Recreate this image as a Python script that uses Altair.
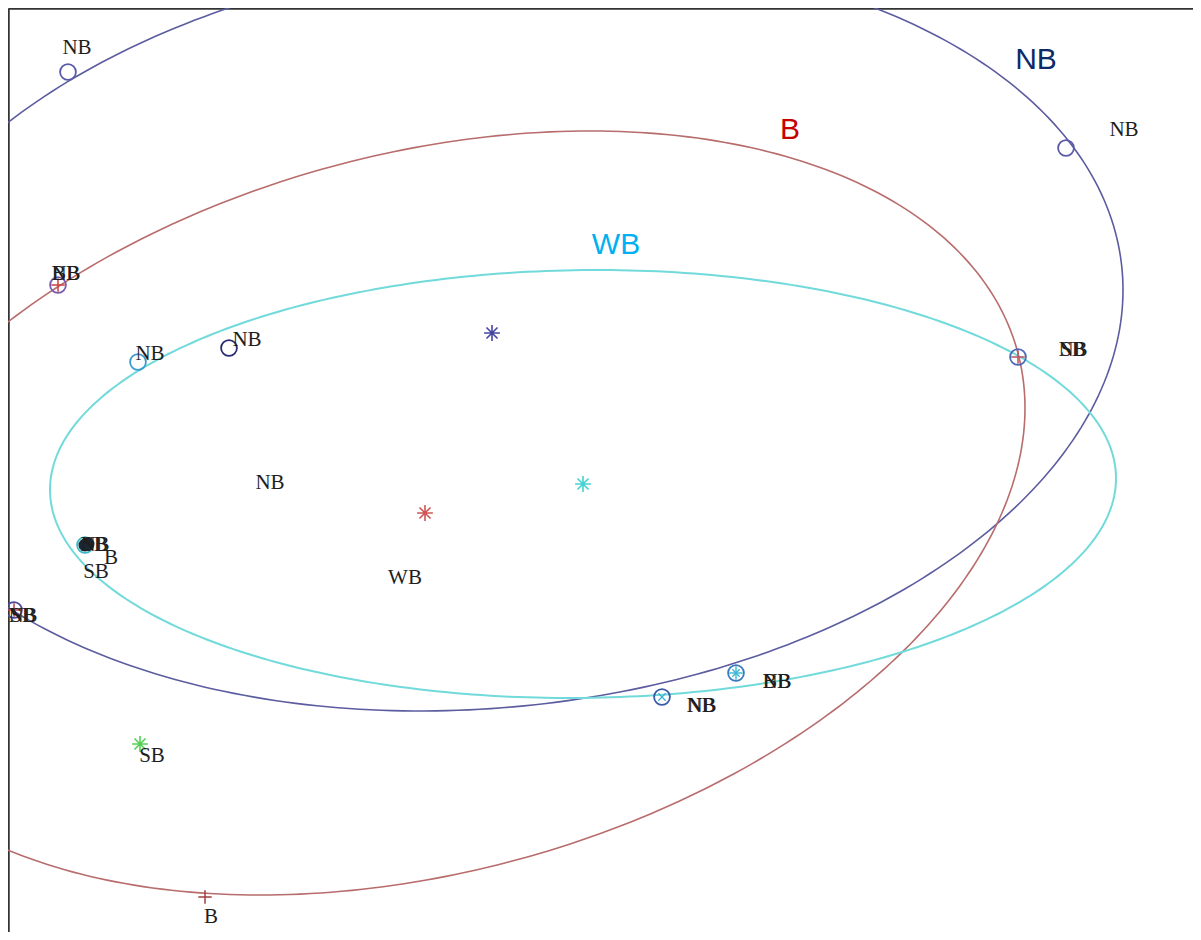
import altair as alt
import numpy as np
import pandas as pd

# ---- ellipses (group, centre, x/y half-extent, covariance-like cross term) ----
ell_group = ["NB", "B", "WB"]
ell_cx = [491, 425, 583]
ell_cy = [332.5, 513, 484]
ell_rx = [632, 600, 533]
ell_ry = [378.5, 382, 214]
ell_cxy = [-26860, -63000, -3000]
ell_color = ["#5c5ca0", "#b86c6c", "#72dada"]
ell_width = [1.6, 1.6, 2.0]

# ---- group centroids (asterisks) ----
cen_x = [492, 425, 583, 140]
cen_y = [333, 513, 484, 744]
cen_color = ["#4545a5", "#d05555", "#45d2d2", "#55d055"]

# ---- observation circles ----
circ_x = [68, 1066, 229, 138, 58, 1018, 662, 736, 14, 85]
circ_y = [72, 148, 348, 362, 285, 357, 697, 673, 610, 545]
circ_color = ["#5a5aa8", "#5a5aa8", "#2a2a70", "#3a9ccf", "#7a5ab0",
              "#4a6ab8", "#3a5aa8", "#3a7ac0", "#4a4aa0", "#3ab8c8"]

# filled cluster
fill_x = [85, 88]
fill_y = [545, 544]

# plus markers
plus_x = [58, 1018, 205, 14, 736]
plus_y = [285, 357, 897, 610, 673]
plus_color = ["#d04040", "#c05060", "#a04040", "#c04050", "#40c0d8"]

# x markers
xm_x = [662, 736]
xm_y = [697, 673]
xm_color = ["#40b0d0", "#40b0d0"]

# ---- small labels ----
lab_text = ["NB", "NB", "NB", "NB", "BB", "NB", "NB", "SB", "NB", "NB",
            "NB", "BB", "SB", "NB", "NB", "SB", "B", "SB", "SB", "B",
            "NB", "WB"]
lab_x = [77, 1124, 247, 150, 66, 66, 1073, 1073, 701, 702,
         777, 777, 23, 23, 95, 95, 111, 96, 152, 211,
         270, 405]
lab_y = [48, 130, 340, 354, 274, 274, 350, 350, 706, 706,
         682, 682, 616, 616, 545, 545, 558, 572, 756, 917,
         483, 578]

# ---- big group labels ----
big_text = ["NB", "B", "WB"]
big_x = [1036, 790, 616]
big_y = [60, 130, 245]
big_color = ["#0c2a6a", "#c40000", "#00b0f0"]

X0, X1, Y0, Y1 = 8, 1193, 8, 932

rows = []
t = np.linspace(0, 2 * np.pi, 361)
for g, cx, cy, rx, ry, cxy, col, w in zip(ell_group, ell_cx, ell_cy, ell_rx, ell_ry,
                                          ell_cxy, ell_color, ell_width):
    k = cxy / rx
    s = np.sqrt(ry ** 2 - k ** 2)
    for i, tt in enumerate(t):
        rows.append({"g": g, "i": i, "x": cx + rx * np.cos(tt),
                     "y": cy + k * np.cos(tt) + s * np.sin(tt), "c": col, "w": w})
ell_df = pd.DataFrame(rows)

xs = alt.Scale(domain=[X0, X1], nice=False, zero=False)
ys = alt.Scale(domain=[Y0, Y1], nice=False, zero=False, reverse=True)
xax = alt.Axis(orient="top", labels=False, ticks=False, grid=False, title=None,
               domainColor="#333333", domainWidth=2.5)
yax = alt.Axis(orient="left", labels=False, ticks=False, grid=False, title=None,
               domainColor="#333333", domainWidth=2.5)


def X():
    return alt.X("x:Q", scale=xs, axis=xax)


def Y():
    return alt.Y("y:Q", scale=ys, axis=yax)


ellipses = alt.Chart(ell_df).mark_line(clip=True).encode(
    x=X(), y=Y(), detail="g:N", order="i:Q",
    color=alt.Color("c:N", scale=None),
    strokeWidth=alt.StrokeWidth("w:Q", scale=None))

ast_path = "M-1,0L1,0M0,-1L0,1M-0.7,-0.7L0.7,0.7M-0.7,0.7L0.7,-0.7"
plus_path = "M-1,0L1,0M0,-1L0,1"
x_path = "M-0.7,-0.7L0.7,0.7M-0.7,0.7L0.7,-0.7"

cen_df = pd.DataFrame({"x": cen_x, "y": cen_y, "c": cen_color})
centroids = alt.Chart(cen_df).mark_point(shape=ast_path, size=250, filled=False,
                                         strokeWidth=1.6, opacity=1).encode(
    x=X(), y=Y(), color=alt.Color("c:N", scale=None))

circ_df = pd.DataFrame({"x": circ_x, "y": circ_y, "c": circ_color})
circles = alt.Chart(circ_df).mark_point(shape="circle", size=250, filled=False,
                                        strokeWidth=1.8, opacity=1, clip=True).encode(
    x=X(), y=Y(), color=alt.Color("c:N", scale=None))

fill_df = pd.DataFrame({"x": fill_x, "y": fill_y})
filled = alt.Chart(fill_df).mark_point(shape="circle", size=170, filled=True,
                                       color="#1a2636", opacity=1).encode(x=X(), y=Y())

plus_df = pd.DataFrame({"x": plus_x, "y": plus_y, "c": plus_color})
pluses = alt.Chart(plus_df).mark_point(shape=plus_path, size=180, filled=False,
                                       strokeWidth=1.5, opacity=1, clip=True).encode(
    x=X(), y=Y(), color=alt.Color("c:N", scale=None))

xm_df = pd.DataFrame({"x": xm_x, "y": xm_y, "c": xm_color})
xmarks = alt.Chart(xm_df).mark_point(shape=x_path, size=110, filled=False,
                                     strokeWidth=1.3, opacity=1).encode(
    x=X(), y=Y(), color=alt.Color("c:N", scale=None))

lab_df = pd.DataFrame({"x": lab_x, "y": lab_y, "t": lab_text})
labels = alt.Chart(lab_df).mark_text(font="Liberation Serif", fontSize=21,
                                     color="#1e1e1e", align="center",
                                     baseline="middle", clip=True).encode(
    x=X(), y=Y(), text="t:N")

big_df = pd.DataFrame({"x": big_x, "y": big_y, "t": big_text, "c": big_color})
big = alt.Chart(big_df).mark_text(font="Liberation Sans", fontSize=30,
                                  align="center", baseline="middle").encode(
    x=X(), y=Y(), text="t:N", color=alt.Color("c:N", scale=None))

chart = alt.layer(ellipses, circles, filled, pluses, xmarks, centroids, labels, big).properties(
    width=X1 - X0, height=Y1 - Y0, padding=0
).configure_view(stroke=None)

chart.save("out.html", embed_options={"renderer": "svg", "actions": False})
